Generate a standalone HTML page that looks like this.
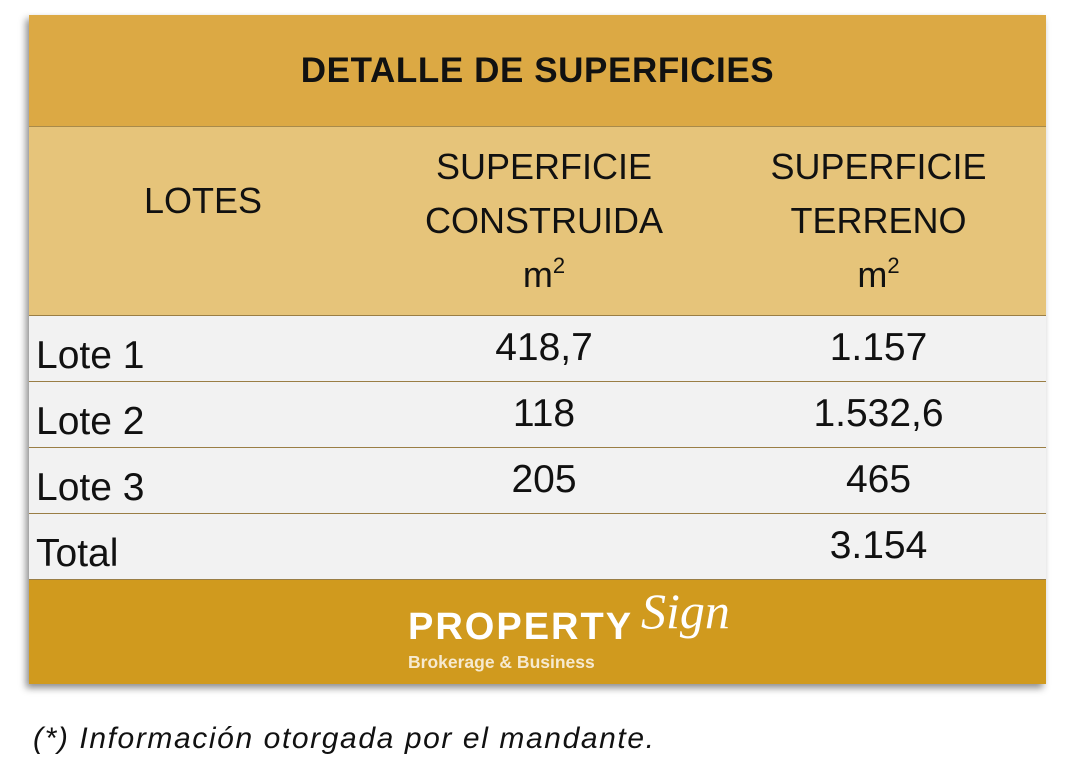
<!DOCTYPE html>
<html><head><meta charset="utf-8"><style>
body{margin:0;width:1068px;height:784px;background:#fff;font-family:"Liberation Sans",sans-serif;position:relative;overflow:hidden}
.box{position:absolute;left:29px;top:15px;width:1017px;height:669px;box-shadow:-3px 4px 7px rgba(0,0,0,.45)}
.c{position:absolute;box-sizing:border-box;display:flex;align-items:center;justify-content:center;text-align:center;color:#111}
.title{left:0;top:0;width:1017px;height:112px;background:#dca944;font-weight:bold;font-size:35px;letter-spacing:0.6px;border-bottom:1px solid #a88a4a}
.hd{top:112px;height:189px;background:#e6c47a;font-size:36px;line-height:54px;border-right:1px solid #9a7e45;border-bottom:1px solid #9a7e45}
.cell{height:66px;background:#f2f2f2;font-size:39px;border-right:1px solid #9a7e45;border-bottom:1px solid #9a7e45}
.l{justify-content:flex-start;padding-left:7px;padding-top:14px}
.v{align-items:flex-start;padding-top:10px}
.foot{left:0;top:565px;width:1017px;height:104px;background:#d09a1e}
sup{font-size:22px;vertical-align:14px;line-height:0}
</style></head><body>
<div class="box">
<div class="c title">DETALLE DE SUPERFICIES</div>
<div class="c hd" style="left:0;width:349px;align-items:flex-start;padding-top:47px">LOTES</div>
<div class="c hd" style="left:348px;width:335px"><div>SUPERFICIE<br>CONSTRUIDA<br>m<sup>2</sup></div></div>
<div class="c hd" style="left:682px;width:335px;border-right:none"><div>SUPERFICIE<br>TERRENO<br>m<sup>2</sup></div></div>

<div class="c cell l" style="left:0;top:301px;width:349px">Lote 1</div>
<div class="c cell v" style="left:348px;top:301px;width:335px">418,7</div>
<div class="c cell v" style="left:682px;top:301px;width:335px;border-right:none">1.157</div>

<div class="c cell l" style="left:0;top:367px;width:349px">Lote 2</div>
<div class="c cell v" style="left:348px;top:367px;width:335px">118</div>
<div class="c cell v" style="left:682px;top:367px;width:335px;border-right:none">1.532,6</div>

<div class="c cell l" style="left:0;top:433px;width:349px">Lote 3</div>
<div class="c cell v" style="left:348px;top:433px;width:335px">205</div>
<div class="c cell v" style="left:682px;top:433px;width:335px;border-right:none">465</div>

<div class="c cell l" style="left:0;top:499px;width:349px">Total</div>
<div class="c cell v" style="left:348px;top:499px;width:335px"></div>
<div class="c cell v" style="left:682px;top:499px;width:335px;border-right:none">3.154</div>

<div class="c foot">
<div style="position:absolute;left:379px;top:26px;color:#fff;font-weight:bold;font-size:38px;letter-spacing:2px">PROPERTY</div>
<div style="position:absolute;left:612px;top:2px;color:#fff;font-family:'Liberation Serif',serif;font-style:italic;font-size:50px">Sign</div>
<div style="position:absolute;left:379px;top:72px;color:#f6ead0;font-weight:bold;font-size:17.5px">Brokerage &amp; Business</div>
</div>
</div>
<div style="position:absolute;left:33px;top:722px;font-style:italic;font-size:30px;letter-spacing:1.6px;color:#111">(*) Información otorgada por el mandante.</div>
</body></html>
